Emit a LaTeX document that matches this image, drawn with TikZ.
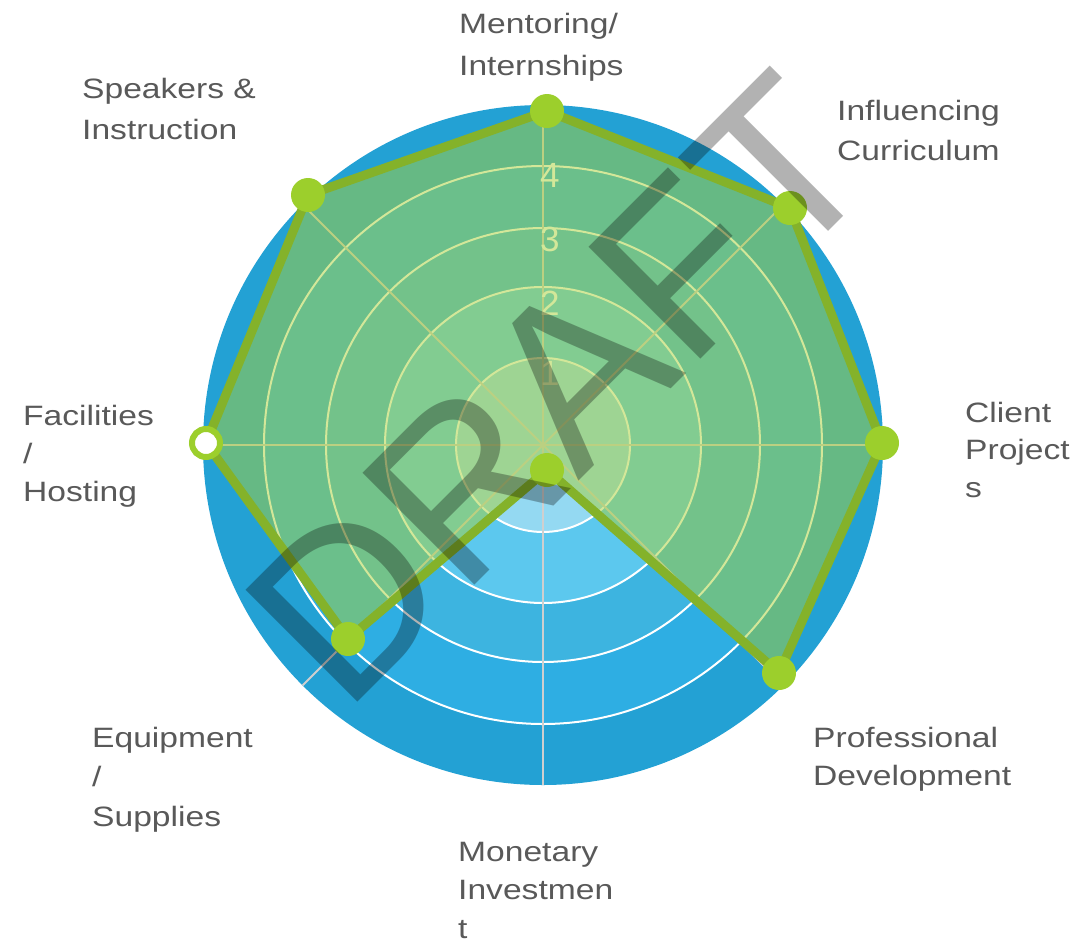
\documentclass[tikz,border=0pt]{standalone}
\usepackage{fontspec}
\setmainfont{Liberation Sans}
\newfontfamily\lblfont[FakeStretch=1.2]{Liberation Sans}
\definecolor{bandA}{HTML}{23A1D4}
\definecolor{bandB}{HTML}{2EAEE3}
\definecolor{bandC}{HTML}{3DB4E0}
\definecolor{bandD}{HTML}{5CC8EE}
\definecolor{bandE}{HTML}{94D9F2}
\definecolor{spokegray}{HTML}{CFCFCF}
\definecolor{polyfill}{HTML}{A9D135}
\definecolor{polyline}{HTML}{84B22A}
\definecolor{markgreen}{HTML}{9CCF2C}
\definecolor{labelgray}{HTML}{595959}
\tikzset{
  gridcircle/.style={draw=white, line width=2pt},
  spoke/.style={draw=spokegray, line width=2pt},
  ticklbl/.style={anchor=north west, inner sep=0pt, text=white, font=\fontsize{35}{35}\selectfont},
  poly/.style={fill=polyfill, fill opacity=0.5, draw=polyline, line width=9pt, line join=round},
  marker/.style={circle, fill=markgreen, inner sep=0pt, minimum size=34pt},
  openmarker/.style={circle, fill=white, draw=markgreen, line width=6pt, inner sep=0pt, minimum size=28pt},
  lbl/.style={anchor=base west, inner sep=0pt, text=labelgray, font=\lblfont\fontsize{28}{34}\selectfont},
  wm/.style={anchor=base west, inner sep=0pt, rotate=45, text=black, text opacity=0.3, font=\fontsize{230}{230}\selectfont}
}
\begin{document}
\begin{tikzpicture}[x=1pt,y=-1pt]
\useasboundingbox (0,0) rectangle (1079,943);
\fill[white] (0,0) rectangle (1079,943);
\coordinate (O) at (543,445);
% blue bands
\fill[bandA] (O) circle[radius=340];
\fill[bandB] (O) circle[radius=279];
\fill[bandC] (O) circle[radius=217];
\fill[bandD] (O) circle[radius=158];
\fill[bandE] (O) circle[radius=87];
\foreach \r in {87,158,217,279} \draw[gridcircle] (O) circle[radius=\r];
\foreach \a in {0,45,...,315} \draw[spoke] (O) -- ++(\a:340);
% tick labels
\node[ticklbl] (t1) at (540,361) {1};
\node[ticklbl] (t2) at (540,291) {2};
\node[ticklbl] (t3) at (540,227) {3};
\node[ticklbl] (t4) at (540,163) {4};
% data polygon
\coordinate (p1) at (547,111);
\coordinate (p2) at (790,208);
\coordinate (p3) at (882,443);
\coordinate (p4) at (779,673);
\coordinate (p5) at (547,470);
\coordinate (p6) at (348,639);
\coordinate (p7) at (206,443);
\coordinate (p8) at (308,195);
\filldraw[poly] (p1) -- (p2) -- (p3) -- (p4) -- (p5) -- (p6) -- (p7) -- (p8) -- cycle;
\node[marker] (m1) at (p1) {};
\node[marker] (m2) at (p2) {};
\node[marker] (m3) at (p3) {};
\node[marker] (m4) at (p4) {};
\node[marker] (m5) at (p5) {};
\node[marker] (m6) at (p6) {};
\node[openmarker] (m7) at (p7) {};
\node[marker] (m8) at (p8) {};
% watermark
\node[wm] (draft) at (344,716) {DRAFT};
% category labels
\node[lbl] (lment) at (459,33) {\vtop{\baselineskip=42pt\hbox{Mentoring/}\hbox{Internships}}};
\node[lbl] (linfl) at (837,120) {\vtop{\baselineskip=40pt\hbox{Influencing}\hbox{Curriculum}}};
\node[lbl] (lclient) at (965,422) {\vtop{\baselineskip=37.5pt\hbox{Client}\hbox{Project}\hbox{s}}};
\node[lbl] (lprof) at (813,747) {\vtop{\baselineskip=38pt\hbox{Professional}\hbox{Development}}};
\node[lbl] (lmon) at (458,861) {\vtop{\baselineskip=38.5pt\hbox{Monetary}\hbox{Investmen}\hbox{t}}};
\node[lbl] (lequip) at (92,747) {\vtop{\baselineskip=39.5pt\hbox{Equipment}\hbox{/}\hbox{Supplies}}};
\node[lbl] (lfac) at (23,425) {\vtop{\baselineskip=38pt\hbox{Facilities}\hbox{/}\hbox{Hosting}}};
\node[lbl] (lspk) at (82,98) {\vtop{\baselineskip=41pt\hbox{Speakers \&}\hbox{Instruction}}};
\end{tikzpicture}
\end{document}
